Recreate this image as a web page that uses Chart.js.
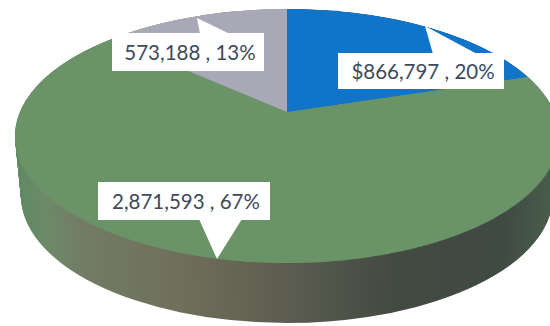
<!DOCTYPE html>
<html>
<head>
<meta charset="utf-8">
<title>Pie</title>
<script src="https://cdn.jsdelivr.net/npm/chart.js@4"></script>
<style>
  html, body { margin: 0; padding: 0; background: #fff; }
  #stage { position: relative; width: 550px; height: 326px; overflow: hidden; background: #fff; }
  canvas { position: absolute; left: 0; top: 0; }
  #faceChart { transform-origin: 0 0; }
  #pointers { position: absolute; left: 0; top: 0; }
  .callout {
    position: absolute; box-sizing: border-box; padding-left: 4px; background: #fff; color: #3c4a5c;
    font-family: Lato, sans-serif; font-size: 20.5px; line-height: 1;
    display: flex; align-items: center; justify-content: center; white-space: pre;
  }
</style>
</head>
<body>
<div id="stage">
  <canvas id="wallChart" width="550" height="326"></canvas>
  <canvas id="faceChart" width="600" height="600"></canvas>
  <svg id="pointers" width="550" height="326"></svg>
</div>
<script>
const sliceNames = ["Blue", "Green", "Grey"];
const sliceValues = [866797, 2871593, 573188];
const valuePrefixes = ["$", "", ""];
const faceColors = ["#1074c8", "#6a9468", "#a8a8b6"];

// where the pie sits on the page
const APEX_X = 287, APEX_Y = 112;
const RIM_TOP = 9, RIM_BOTTOM = 263;
const HALF_WIDTH = 267;
const WALL_DEPTH = 60;
const FACE_SIZE = 600;

// label boxes and the tips of their pointers, same order as the slices
const callouts = [
  { box: [338, 53, 166, 36], tip: [425, 26], base: [433, 477] },
  { box: [98, 182, 172, 38], tip: [217, 259], base: [199, 242] },
  { box: [112, 33, 152, 38], tip: [197, 18], base: [200, 230] },
];

// tilted disc: the far half shrinks toward the apex
function faceMatrix() {
  const up = APEX_Y - RIM_TOP;
  const down = RIM_BOTTOM - APEX_Y;
  const b = (up - down) / (up + down);
  const a = up * (1 - b);
  const r = FACE_SIZE / 2;
  return [
    HALF_WIDTH / r, 0, 0, 0,
    APEX_X * b / r, (APEX_Y * b + a) / r, 0, b / r,
    0, 0, 1, 0,
    APEX_X * (1 - b) - HALF_WIDTH, APEX_Y * (1 - b) - a, 0, 1 - b,
  ];
}

// side of the pie: the same arcs swept downward on a flattened ellipse
const sweepWall = {
  id: "sweepWall",
  beforeDatasetsDraw(chart) {
    const ctx = chart.ctx;
    const arcs = chart.getDatasetMeta(0).data;
    for (let dy = WALL_DEPTH; dy >= 0; dy--) {
      arcs.forEach((arc) => {
        ctx.save();
        ctx.translate(APEX_X, 136 + dy);
        ctx.scale((272 - dy * 0.1) / arc.outerRadius, 127 / arc.outerRadius);
        ctx.translate(-arc.x, -arc.y);
        arc.draw(ctx);
        ctx.restore();
      });
    }
    return false;
  },
};

const baseOptions = {
  responsive: false,
  animation: false,
  devicePixelRatio: 1,
  layout: { padding: 0 },
  plugins: { legend: { display: false }, tooltip: { enabled: false } },
};

function drawWall() {
  const canvas = document.getElementById("wallChart");
  const shade = canvas.getContext("2d").createLinearGradient(112, 0, 438, 0);
  shade.addColorStop(0, "#5f8a62");
  shade.addColorStop(0.05, "#6d8a68");
  shade.addColorStop(0.12, "#727c64");
  shade.addColorStop(0.3, "#6f6f5a");
  shade.addColorStop(0.5, "#5c5d50");
  shade.addColorStop(0.7, "#434a42");
  shade.addColorStop(0.9, "#3f4a42");
  shade.addColorStop(1, "#4a5e4c");
  new Chart(canvas, {
    type: "pie",
    data: { labels: sliceNames, datasets: [{ data: sliceValues, backgroundColor: shade, borderWidth: 0 }] },
    options: baseOptions,
    plugins: [sweepWall],
  });
}

function drawFace() {
  const canvas = document.getElementById("faceChart");
  new Chart(canvas, {
    type: "pie",
    data: { labels: sliceNames, datasets: [{ data: sliceValues, backgroundColor: faceColors, borderWidth: 0 }] },
    options: baseOptions,
  });
  canvas.style.transform = `matrix3d(${faceMatrix().join(",")})`;
}

function labelText(i) {
  const total = sliceValues.reduce((s, v) => s + v, 0);
  const pct = Math.round((sliceValues[i] / total) * 100);
  return `${valuePrefixes[i]}${sliceValues[i].toLocaleString("en-US")} , ${pct}%`;
}

function drawCallouts() {
  const stage = document.getElementById("stage");
  const svg = document.getElementById("pointers");
  callouts.forEach((c, i) => {
    const [x, y, w, h] = c.box;
    // pointer leaves the box edge nearest to its tip
    const edge = c.tip[1] < y ? y + 1 : y + h - 1;
    const tri = document.createElementNS("http://www.w3.org/2000/svg", "polygon");
    tri.setAttribute("points", `${c.tip[0]},${c.tip[1]} ${c.base[0]},${edge} ${c.base[1]},${edge}`);
    tri.setAttribute("fill", "#fff");
    svg.appendChild(tri);

    const el = document.createElement("div");
    el.className = "callout";
    el.style.cssText = `left:${x}px;top:${y}px;width:${w}px;height:${h}px`;
    el.textContent = labelText(i);
    stage.appendChild(el);
  });
}

drawWall();
drawFace();
drawCallouts();
</script>
</body>
</html>
